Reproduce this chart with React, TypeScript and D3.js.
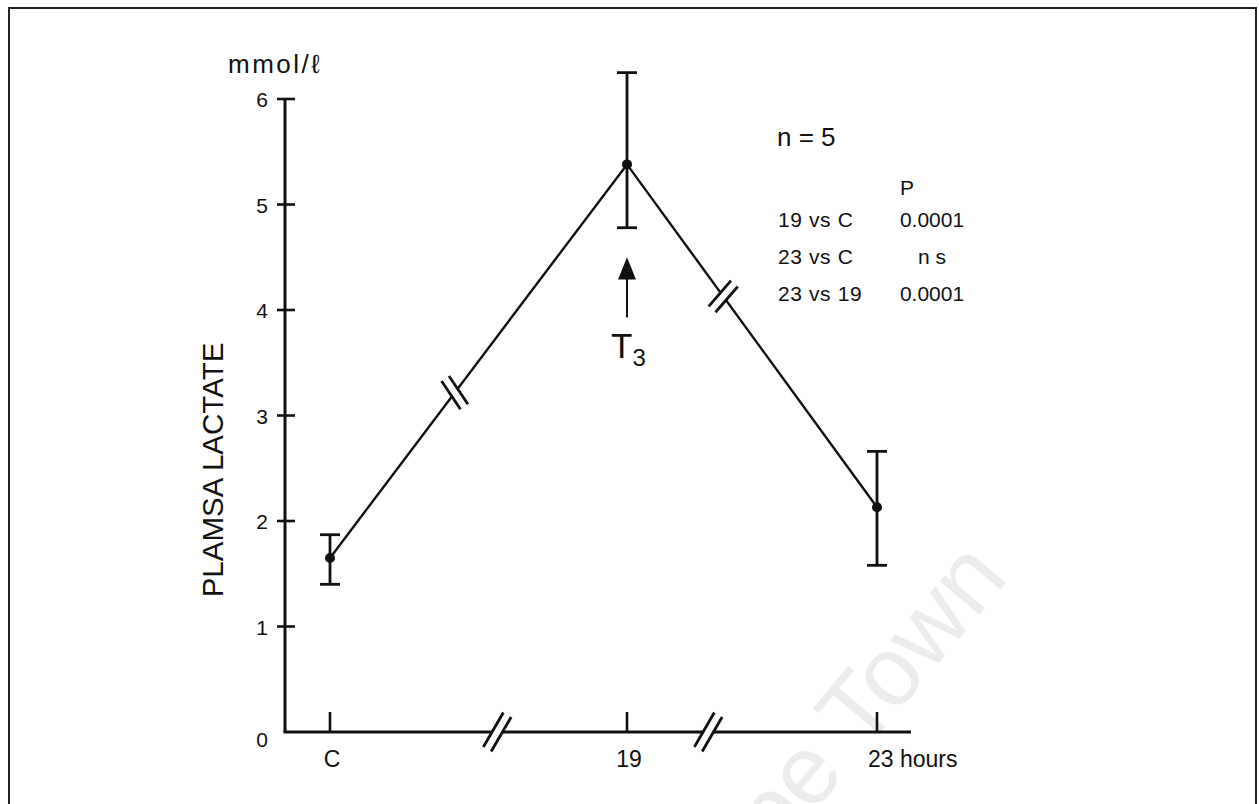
import * as d3 from "d3";

// time points (C = control, drawn at hour 0 on a broken axis)
const categories = ["C", "19", "23"];
const hours = [0, 19, 23];
const meanLactate = [1.65, 5.38, 2.13];
const upperBar = [1.87, 6.25, 2.66];
const lowerBar = [1.4, 4.78, 1.58];

const yTicks = [0, 1, 2, 3, 4, 5, 6];
const xTickLabels = ["C", "19", "23 hours"];

// where the "//" marks sit: hours on the x axis, fraction of segment on the line
const axisBreakHours = [10.7, 20.3];
const lineBreakFractions = [0.42, 0.385];
const lineBreakTilt = [19, -13];

const statRows = ["19 vs C", "23 vs C", "23 vs 19"];
const statValues = ["0.0001", "n s", "0.0001"];

const width = 1259;
const height = 804;
const font = "'Liberation Sans', Arial, Helvetica, sans-serif";

const x = d3.scaleLinear().domain([0, 19, 23]).range([330, 627, 877]);
const y = d3.scaleLinear().domain([0, 6]).range([732, 99]);

const axisLeftX = 285;
const axisRightX = 911;

function BreakMark({ cx, cy, angle, len, gap }: { cx: number; cy: number; angle: number; len: number; gap: number }) {
  return (
    <g transform={`translate(${cx},${cy}) rotate(${angle})`}>
      <rect x={-gap / 2} y={-len / 2 + 4} width={gap} height={len - 8} fill="#fff" />
      <line x1={-gap / 2} y1={-len / 2} x2={-gap / 2} y2={len / 2} stroke="#111" strokeWidth={2.8} />
      <line x1={gap / 2} y1={-len / 2} x2={gap / 2} y2={len / 2} stroke="#111" strokeWidth={2.8} />
    </g>
  );
}

export default function App() {
  const pts = hours.map((h, i) => ({ x: x(h), y: y(meanLactate[i]) }));
  const line = d3.line<{ x: number; y: number }>().x((d) => d.x).y((d) => d.y);

  const lineBreaks = lineBreakFractions.map((f, i) => {
    const a = pts[i];
    const b = pts[i + 1];
    const ang = (Math.atan2(b.y - a.y, b.x - a.x) * 180) / Math.PI;
    return { cx: a.x + (b.x - a.x) * f, cy: a.y + (b.y - a.y) * f, angle: ang + lineBreakTilt[i] };
  });

  return (
    <svg
      width={width}
      height={height}
      style={{ position: "fixed", left: 0, top: 0, background: "#fff" }}
      fontFamily={font}
    >
      <rect x={0} y={0} width={width} height={height} fill="#fff" />

      {/* faint watermark */}
      <text
        transform="translate(1010,578) rotate(-50)"
        textAnchor="end"
        fontSize={98}
        fill="#ececec"
      >
        Cape Town
      </text>

      {/* frame */}
      <path d={`M9,806 L9,8 L1256,8 L1256,806`} fill="none" stroke="#222" strokeWidth={2} />

      {/* y axis */}
      <line x1={axisLeftX} y1={y(6)} x2={axisLeftX} y2={y(0)} stroke="#111" strokeWidth={3} />
      {yTicks.slice(1).map((t) => (
        <line key={t} x1={axisLeftX - 8} x2={axisLeftX + 10} y1={y(t)} y2={y(t)} stroke="#111" strokeWidth={2.6} />
      ))}
      {yTicks.map((t) => (
        <text key={t} x={268} y={y(t) + (t === 0 ? 15 : 8)} textAnchor="end" fontSize={21} fill="#111">
          {t}
        </text>
      ))}
      <text x={228} y={73} fontSize={26} letterSpacing={2.5} fill="#111">
        mmol/ℓ
      </text>
      <text
        transform={`translate(223,470) rotate(-90)`}
        textAnchor="middle"
        fontSize={29.5}
        fill="#111"
      >
        PLAMSA LACTATE
      </text>

      {/* x axis */}
      <line x1={axisLeftX - 1.5} y1={y(0)} x2={axisRightX} y2={y(0)} stroke="#111" strokeWidth={3} />
      {hours.map((h) => (
        <line key={h} x1={x(h)} x2={x(h)} y1={y(0)} y2={y(0) - 20} stroke="#111" strokeWidth={2.6} />
      ))}
      {axisBreakHours.map((h) => (
        <BreakMark key={h} cx={x(h)} cy={y(0)} angle={30} len={40} gap={9} />
      ))}
      {xTickLabels.map((lab, i) => (
        <text
          key={lab}
          x={i === 2 ? x(hours[i]) - 9 : x(hours[i]) + 2}
          y={767}
          textAnchor={i === 2 ? "start" : "middle"}
          fontSize={23}
          fill="#111"
        >
          {lab}
        </text>
      ))}

      {/* data line */}
      <path d={line(pts) ?? ""} fill="none" stroke="#111" strokeWidth={2.4} />
      {lineBreaks.map((b, i) => (
        <BreakMark key={i} cx={b.cx} cy={b.cy} angle={b.angle} len={34} gap={9} />
      ))}

      {/* error bars */}
      {hours.map((h, i) => (
        <g key={h} stroke="#111" strokeWidth={2.8}>
          <line x1={x(h)} x2={x(h)} y1={y(upperBar[i])} y2={y(lowerBar[i])} />
          <line x1={x(h) - 10} x2={x(h) + 10} y1={y(upperBar[i])} y2={y(upperBar[i])} />
          <line x1={x(h) - 10} x2={x(h) + 10} y1={y(lowerBar[i])} y2={y(lowerBar[i])} />
        </g>
      ))}
      {pts.map((p, i) => (
        <circle key={i} cx={p.x} cy={p.y} r={5} fill="#111" />
      ))}

      {/* T3 arrow */}
      <line x1={x(19)} x2={x(19)} y1={y(3.93)} y2={y(4.3)} stroke="#111" strokeWidth={2} />
      <path
        d={`M${x(19)},${y(4.5)} L${x(19) + 9},${y(4.29)} L${x(19) - 9},${y(4.29)} Z`}
        fill="#111"
      />
      <text x={611} y={358} fontSize={35} fill="#111">
        T
        <tspan fontSize={24} dy={8}>
          3
        </tspan>
      </text>

      {/* stats annotation */}
      <text x={777} y={146} fontSize={26} fill="#111">
        n = 5
      </text>
      <text x={900} y={195} fontSize={21} fill="#111">
        P
      </text>
      {statRows.map((r, i) => (
        <g key={r}>
          <text x={778} y={227 + i * 37} fontSize={21} letterSpacing={0.6} fill="#111">
            {r}
          </text>
          <text x={932} y={227 + i * 37} fontSize={21} textAnchor="middle" fill="#111">
            {statValues[i]}
          </text>
        </g>
      ))}
    </svg>
  );
}
